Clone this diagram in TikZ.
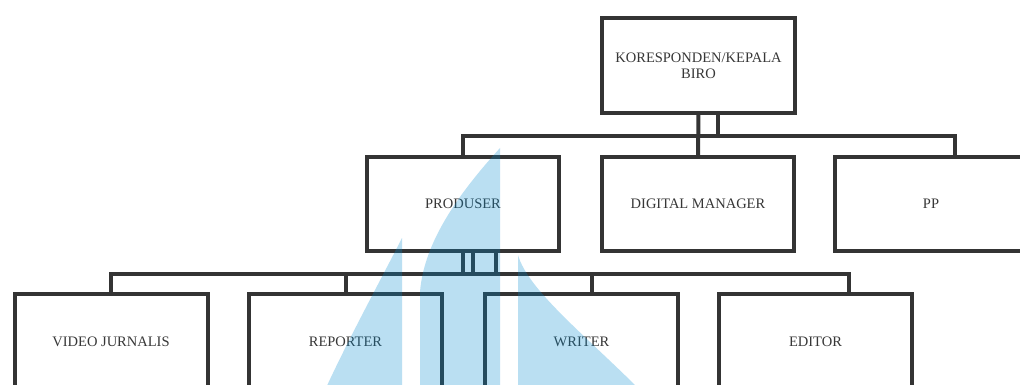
\documentclass[tikz,border=0pt]{standalone}
\usepackage{fontspec}
\setmainfont{Liberation Serif}
\definecolor{boxline}{RGB}{52,52,52}
\definecolor{txt}{RGB}{55,55,55}
\definecolor{mark}{RGB}{0,140,210}
\tikzset{
  orgbox/.style={draw=boxline, line width=4pt, fill=white, rectangle, outer sep=0pt, inner sep=2pt,
    text=txt, font=\fontsize{14.5}{16}\selectfont, align=center},
  rowtwo/.style={orgbox, minimum width=192pt, minimum height=94pt},
  rowthree/.style={orgbox, minimum width=193pt, minimum height=96pt},
  link/.style={draw=boxline, line width=4pt},
  watermark/.style={fill=mark, fill opacity=0.27, draw=none}
}
\begin{document}
\begin{tikzpicture}[x=1pt,y=-1pt]
\useasboundingbox (0,0) rectangle (1020,385);
\fill[white] (0,0) rectangle (1020,385);
% nodes
\node[orgbox, minimum width=193pt, minimum height=95pt] (top) at (698.5,65.5) {KORESPONDEN/KEPALA\\BIRO};
\node[rowtwo] (produser) at (463,204) {PRODUSER};
\node[rowtwo] (dm) at (698,204) {DIGITAL MANAGER};
\node[rowtwo] (pp) at (931,204) {PP};
\node[rowthree] (vj) at (111,342) {VIDEO JURNALIS};
\node[rowthree] (rep) at (345.5,342) {REPORTER};
\node[rowthree] (writer) at (581.5,342) {WRITER};
\node[rowthree] (editor) at (815.5,342) {EDITOR};
% bus coordinates
\coordinate (busA) at (698,136);
\coordinate (busB) at (463,274);
% top level connectors
\draw[link] (top.south) -- (dm.north);
\draw[link] ([xshift=19pt]top.south) -- ([xshift=19pt]top.south |- busA);
\draw[link] (produser.north) |- ([xshift=24pt]pp.north |- busA) -- ([xshift=24pt]pp.north);
% produser connectors
\draw[link] (produser.south) -- (produser.south |- busB);
\draw[link] ([xshift=10pt]produser.south) -- ([xshift=10pt]produser.south |- busB);
\draw[link] ([xshift=33pt]produser.south) -- ([xshift=33pt]produser.south |- busB);
\draw[link] (vj.north) |- ([xshift=33pt]editor.north |- busB) -- ([xshift=33pt]editor.north);
\draw[link] (rep.north) -- (rep.north |- busB);
\draw[link] ([xshift=10pt]writer.north) -- ([xshift=10pt]writer.north |- busB);
% watermark
\fill[watermark] (402,238) .. controls (378,285) and (348,340) .. (325,390) -- (402,390) -- cycle;
\fill[watermark] (500,148) -- (500,390) -- (420,390) -- (420,292) .. controls (424,240) and (462,190) .. (500,148);
\fill[watermark] (518,255) .. controls (528,290) and (585,335) .. (640,390) -- (518,390) -- cycle;
\end{tikzpicture}
\end{document}
